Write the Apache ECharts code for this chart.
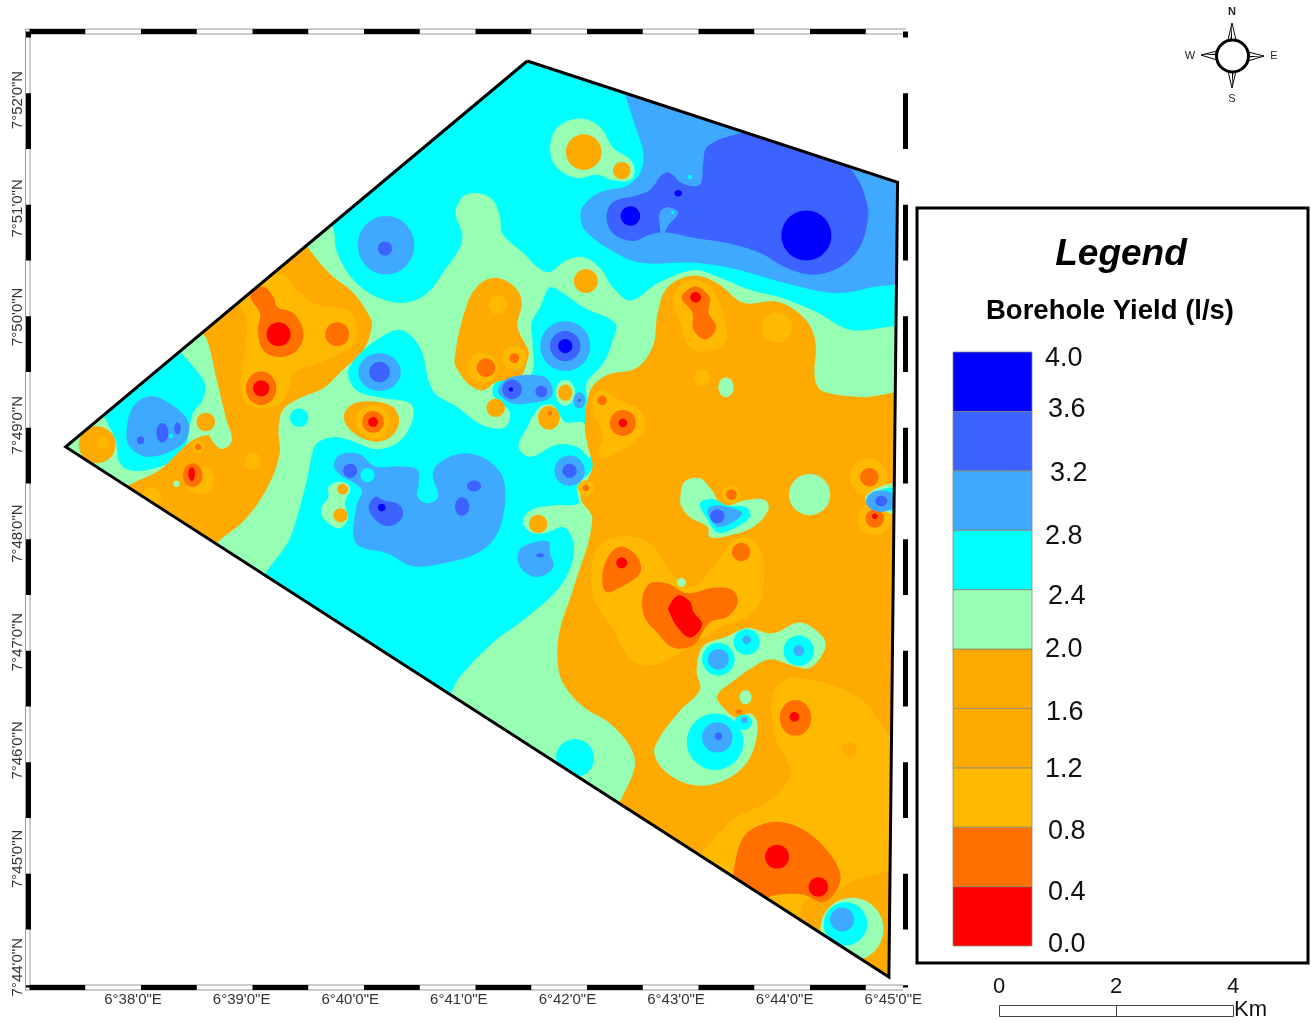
<!DOCTYPE html>
<html><head><meta charset="utf-8"><style>html,body{margin:0;padding:0;background:#fff}#c{width:1311px;height:1023px}</style>
<script src="https://cdn.jsdelivr.net/npm/echarts@6/dist/echarts.min.js"></script></head><body><div id="c"></div>
<script>
// Tick labels (arc minutes of 6°E and 7°N)
const lonTicks=[38,39,40,41,42,43,44,45];
const latTicks=[44,45,46,47,48,49,50,51,52];
// Yield classes (mid value of each legend band, l/s)
const R=0.2,D=0.6,Y=1.0,O=1.8,G=2.2,C=2.6,B=3.0,I=3.4,K=3.8;
const classLows=[0,0.4,0.8,1.2,1.6,2.0,2.4,2.8,3.2,3.6];
const classColors=['#ff0000','#ff7000','#ffb900','#ffaa00','#ffaa00','#96ffb4','#00ffff','#3ea9ff','#3c62ff','#0000ff'];
const legendLabels=['4.0','3.6','3.2','2.8','2.4','2.0','1.6','1.2','0.8','0.4','0.0'];
// Study area outline (lon, lat in arc minutes)
const boundary=[41.63,52.36, 45.04,51.24, 44.96,43.91, 37.38,48.80];
// Contour zones: [class,[lon,lat,...]] or [class,lon,lat,r] or [class,lon,lat,rx,ry]
const northZones=[
[C,boundary,0],
[B,[42.48,52.18,42.53,52.05,42.62,51.77,42.70,51.51,42.67,51.33,42.55,51.21,42.30,51.15,42.15,51.03,42.12,50.94,42.16,50.80,42.39,50.62,42.67,50.50,43.13,50.50,43.50,50.45,44.05,50.30,44.46,50.22,44.79,50.27,45.15,50.38,45.15,51.35]],
[I,[43.29,51.57,43.54,51.68,43.77,51.70,44.51,51.45,44.68,51.26,44.75,51.08,44.77,50.92,44.69,50.64,44.51,50.46,44.26,50.39,44.02,50.45,43.77,50.59,43.47,50.68,43.16,50.73,42.90,50.78,42.76,50.76,42.60,50.70,42.42,50.77,42.36,50.92,42.42,51.06,42.64,51.12,42.76,51.17,42.87,51.31,42.94,51.33,43.06,51.23,43.22,51.22,43.25,51.42]],
[B,[42.85,50.96,42.92,51.01,43.02,50.96,42.92,50.83,42.87,50.72,42.85,50.85]],
[C,43.13,51.29,0.02],[C,42.97,50.96,0.015],
[K,44.20,50.75,0.23],[K,42.58,50.93,0.09],[K,43.02,51.14,0.035,0.03],
[G,[41.84,51.54,41.91,51.75,42.12,51.83,42.30,51.75,42.42,51.56,42.58,51.45,42.62,51.35,42.58,51.26,42.42,51.26,42.27,51.31,42.09,51.28,41.91,51.37]],
[O,42.15,51.52,0.165],[O,42.50,51.35,0.08],
[B,40.33,50.66,0.26,0.27],[I,40.32,50.63,0.065]
];
const greenMain=[39.84,50.83,39.88,50.59,40.03,50.34,40.25,50.18,40.50,50.13,40.71,50.22,40.89,50.46,41.01,50.64,41.03,50.77,40.97,50.96,41.04,51.11,41.18,51.14,41.31,51.08,41.38,50.92,41.40,50.77,41.59,50.59,41.81,50.41,41.99,50.52,42.15,50.55,42.30,50.45,42.42,50.27,42.58,50.15,42.83,50.31,43.16,50.43,43.38,50.37,43.68,50.25,43.99,50.17,44.30,50.04,44.60,49.88,45.15,49.83,45.15,43.70,37.14,43.70,37.14,48.86,39.72,50.99];
const cyanCentre=[39.70,48.84,39.84,48.89,40.00,48.86,40.25,48.78,40.46,48.86,40.58,49.07,40.55,49.20,40.30,49.25,40.06,49.32,39.98,49.48,40.06,49.63,40.25,49.79,40.46,49.88,40.64,49.72,40.76,49.32,40.98,49.17,41.22,49.00,41.42,48.98,41.47,49.12,41.35,49.23,41.31,49.32,41.38,49.44,41.66,49.46,41.68,49.74,41.67,49.94,41.75,50.09,41.84,50.27,41.99,50.20,42.14,50.09,42.44,49.94,42.42,49.79,42.33,49.57,42.18,49.40,42.18,49.26,42.21,49.14,42.21,48.86,42.23,48.61,42.09,48.43,42.10,48.28,41.87,48.26,41.67,48.22,41.59,48.11,41.67,48.01,41.81,48.01,41.96,48.06,42.05,47.94,42.05,47.76,41.93,47.51,41.63,47.23,41.31,46.99,41.01,46.68,40.83,46.46,39.22,47.48,39.45,47.97,39.60,48.49,39.65,48.74];
const orangeMain=[42.83,50.03,42.92,50.27,43.16,50.38,43.38,50.31,43.62,50.13,43.93,50.14,44.17,50.00,44.28,49.79,44.28,49.42,44.36,49.31,44.69,49.26,45.15,49.23,45.15,43.70,42.44,45.45,42.48,45.52,42.62,45.85,42.58,46.03,42.39,46.25,42.15,46.40,41.96,46.62,41.91,46.83,41.93,47.11,42.05,47.48,42.23,48.13,42.12,48.34,42.23,48.61,42.19,48.80,42.16,48.98,42.21,49.32,42.36,49.46,42.64,49.53,42.79,49.74];
const westZones=[
[G,greenMain],
[C,[38.45,49.66,38.66,49.39,38.64,49.23,38.55,49.11,38.50,48.86,38.43,48.71,38.22,48.61,38.00,48.58,37.88,48.65,37.84,48.86,37.74,49.07,37.65,49.23,38.34,49.79]],
[O,[38.57,49.97,39.54,50.75,39.61,50.64,39.81,50.40,40.03,50.22,40.18,50.00,40.20,49.91,40.12,49.69,39.93,49.51,39.75,49.34,39.54,49.25,39.38,49.14,39.34,48.96,39.35,48.74,39.26,48.47,39.05,48.15,38.78,47.92,38.62,47.76,37.79,48.31,37.97,48.45,38.25,48.59,38.52,48.84,38.69,48.91,38.74,48.84,38.82,48.78,38.91,48.86,38.86,49.05,38.77,49.42,38.68,49.79]],
[O,37.67,48.82,0.17],[Y,37.72,48.84,0.055],[O,38.67,49.03,0.085],
[B,[37.94,48.93,38.00,49.17,38.16,49.27,38.34,49.20,38.50,49.05,38.50,48.89,38.37,48.77,38.13,48.71,37.97,48.80]],
[I,38.07,48.86,0.035],[I,38.27,48.93,0.055,0.09],[I,38.41,48.97,0.03,0.055],[C,38.35,48.90,0.02],
[Y,[38.99,50.15,39.35,50.40,39.54,50.22,39.70,50.11,39.97,50.06,40.06,49.91,40.03,49.74,39.88,49.65,39.70,49.57,39.48,49.48,39.43,49.32,39.35,49.20,39.20,49.16,39.05,49.20,38.99,49.39,39.03,49.69,39.05,49.97]],
[D,[39.08,50.19,39.19,50.28,39.29,50.19,39.33,50.09,39.48,50.03,39.57,49.85,39.51,49.69,39.35,49.63,39.20,49.69,39.15,49.88,39.17,50.03]],
[R,39.34,49.84,0.11],[D,39.88,49.84,0.11],[D,39.18,49.34,0.14,0.155],[R,39.18,49.34,0.075],
[Y,38.62,48.49,0.13],[D,38.55,48.54,0.09,0.11],[R,38.54,48.55,0.03,0.065],
[Y,38.60,48.80,0.055],[D,38.60,48.80,0.03],[G,38.40,48.46,0.03],[Y,39.10,48.67,0.075],[Y,38.17,48.34,0.09],
[C,39.53,49.07,0.085]
];
const centreZones=[
[C,cyanCentre],
[O,[40.96,49.60,41.08,50.13,41.20,50.31,41.35,50.36,41.52,50.27,41.58,50.13,41.54,49.91,41.64,49.69,41.64,49.63,41.56,49.44,41.35,49.40,41.22,49.32,41.10,49.37,41.01,49.48]],
[Y,41.36,50.11,0.085],[Y,41.22,49.53,0.14],[Y,41.51,49.62,0.11],[D,41.25,49.53,0.085],[D,41.51,49.62,0.045],[O,41.34,49.16,0.085],
[B,[41.36,49.32,41.47,49.44,41.78,49.45,41.86,49.35,41.84,49.25,41.63,49.20,41.47,49.21]],
[I,41.49,49.33,0.09],[I,41.76,49.31,0.055],[K,41.48,49.33,0.02],
[B,41.98,49.73,0.23],[I,41.98,49.73,0.14],[K,41.98,49.73,0.065],
[G,41.98,49.30,0.09,0.12],[O,41.98,49.30,0.065,0.075],[B,42.11,49.23,0.055,0.075],[I,42.11,49.23,0.015],
[G,[41.55,48.80,41.63,48.98,41.75,49.17,41.87,49.18,41.98,49.03,42.15,49.02,42.19,48.86,42.21,48.70,42.09,48.80,41.90,48.82,41.66,48.71]],
[O,41.83,49.07,0.10,0.11],[D,41.84,49.11,0.02],
[B,42.02,48.58,0.14],[I,42.02,48.58,0.065],
[O,41.73,48.09,0.085],
[B,[41.54,47.78,41.59,47.88,41.82,47.93,41.84,47.82,41.87,47.69,41.73,47.60,41.59,47.66]],
[I,41.75,47.80,0.04,0.02],
[B,[39.85,48.63,39.91,48.73,40.09,48.73,40.23,48.62,40.46,48.62,40.62,48.59,40.63,48.47,40.62,48.34,40.71,48.28,40.81,48.34,40.76,48.56,40.86,48.68,41.08,48.74,41.29,48.66,41.42,48.47,41.38,48.06,41.22,47.85,40.92,47.74,40.58,47.70,40.34,47.82,40.09,47.88,40.03,47.97,40.06,48.26,40.11,48.40,40.03,48.47,39.91,48.54]],
[C,40.16,48.54,0.065],[I,40.00,48.58,0.065],
[I,[40.17,48.24,40.23,48.34,40.30,48.31,40.46,48.26,40.48,48.15,40.37,48.07,40.25,48.11]],
[K,40.29,48.24,0.035],[I,41.03,48.25,0.065,0.085],[I,41.14,48.44,0.065,0.05],
[G,[39.73,48.22,39.80,48.34,39.80,48.43,39.91,48.48,40.00,48.42,39.95,48.28,39.98,48.15,39.91,48.05,39.79,48.10]],
[O,39.93,48.41,0.05],[O,39.91,48.17,0.065],
[O,[39.94,49.07,40.00,49.18,40.15,49.22,40.39,49.17,40.45,49.03,40.37,48.89,40.21,48.85,40.03,48.93]],
[Y,40.21,49.03,0.155],[D,40.21,49.03,0.10],[R,40.21,49.03,0.045],
[B,40.27,49.49,0.195,0.175],[I,40.27,49.49,0.095],
[O,42.17,50.33,0.11]
];
const eastZones=[
[O,orangeMain],
[Y,42.17,48.42,0.075],[D,42.17,48.42,0.03],
[Y,[42.97,50.15,43.04,50.29,43.18,50.34,43.34,50.25,43.47,49.81,43.34,49.69,43.13,49.71,43.04,49.94]],
[D,[43.05,50.18,43.18,50.28,43.31,50.18,43.30,50.04,43.37,49.90,43.27,49.79,43.16,49.88,43.15,50.04]],
[R,43.18,50.18,0.05],[Y,43.93,49.90,0.14],[Y,43.24,49.44,0.075],[G,43.46,49.35,0.07,0.09],
[Y,[42.24,49.26,42.33,49.32,42.48,49.23,42.67,49.14,42.72,48.98,42.60,48.84,42.46,48.75,42.36,48.70,42.28,48.75,42.33,48.89,42.24,49.11]],
[D,42.32,49.23,0.045],[D,42.51,49.02,0.12],[R,42.51,49.02,0.04],
[G,44.23,48.36,0.19],
[G,[43.04,48.34,43.08,48.48,43.22,48.51,43.33,48.40,43.43,48.26,43.65,48.31,43.82,48.31,43.85,48.22,43.71,48.06,43.44,47.97,43.31,47.97,43.29,48.06,43.13,48.15,43.05,48.25]],
[C,[43.22,48.28,43.34,48.32,43.47,48.26,43.65,48.24,43.68,48.15,43.50,48.03,43.38,48.01,43.29,48.13]],
[B,[43.29,48.22,43.36,48.26,43.50,48.24,43.61,48.19,43.53,48.11,43.40,48.06,43.33,48.11]],
[I,43.38,48.16,0.065],[Y,43.51,48.36,0.085],[D,43.51,48.36,0.05],
[Y,44.77,48.52,0.17],[D,44.78,48.52,0.085],[Y,44.83,48.14,0.155],[D,44.83,48.14,0.085],[R,44.83,48.16,0.025],
[G,[44.74,48.32,44.85,48.42,45.02,48.47,45.15,48.47,45.15,48.17,45.02,48.17,44.85,48.25]],
[C,[44.77,48.32,44.88,48.40,45.02,48.43,45.15,48.43,45.15,48.20,45.02,48.20,44.88,48.25]],
[B,44.89,48.30,0.14,0.10],[I,44.89,48.30,0.055,0.05]
];
const southZones=[
[Y,[42.24,47.79,42.36,47.94,42.60,47.97,42.79,47.88,42.94,47.66,43.13,47.51,43.34,47.69,43.50,47.91,43.65,47.96,43.79,47.82,43.79,47.41,43.65,47.23,43.40,47.13,43.22,47.02,42.85,46.80,42.60,46.83,42.42,47.11,42.24,47.41]],
[D,[42.32,47.57,42.36,47.76,42.48,47.88,42.64,47.79,42.67,47.64,42.48,47.50,42.36,47.46]],
[R,42.50,47.73,0.05],
[D,[42.69,47.41,42.76,47.54,42.92,47.54,43.10,47.45,43.34,47.50,43.52,47.48,43.57,47.37,43.47,47.23,43.31,47.18,43.16,46.97,42.97,46.95,42.83,47.08,42.71,47.23]],
[R,[42.93,47.32,43.02,47.43,43.13,47.37,43.16,47.28,43.24,47.16,43.13,47.04,43.01,47.14,42.94,47.27]],
[G,43.05,47.55,0.04],[D,43.60,47.83,0.085],
[Y,[43.88,46.35,43.89,46.53,43.96,46.62,44.08,46.67,44.45,46.60,44.72,46.46,44.91,46.21,45.02,46.03,45.06,44.99,44.60,44.78,44.39,44.62,44.19,44.62,44.10,44.44,43.13,44.99,43.25,45.08,43.52,45.36,43.87,45.54,44.05,45.76,44.02,45.91,43.91,46.12]],
[G,[43.25,46.96,43.47,47.05,43.65,47.13,43.89,47.08,44.14,47.18,44.35,47.05,44.37,46.93,44.23,46.76,44.05,46.79,43.87,46.84,43.71,46.77,43.54,46.65,43.38,46.51,43.43,46.40,43.56,46.30,43.68,46.34,43.75,46.25,43.71,46.00,43.59,45.82,43.38,45.70,43.16,45.68,42.92,45.79,42.80,45.97,42.85,46.12,43.04,46.37,43.22,46.56,43.19,46.74]],
[G,43.64,46.49,0.055,0.065],[D,43.58,46.36,0.03,0.02],
[C,43.36,46.08,0.26],[B,43.38,46.12,0.14],[I,43.39,46.13,0.035],
[C,43.62,46.26,0.08,0.07],[B,43.63,46.28,0.03],
[C,43.39,46.84,0.15],[B,43.39,46.84,0.095],
[C,43.65,47.00,0.12],[B,43.65,47.02,0.04],
[C,44.13,46.92,0.14],[B,44.13,46.92,0.05],
[C,42.07,45.93,0.175],
[O,44.60,46.01,0.065],[D,44.10,46.30,0.145,0.165],[R,44.09,46.31,0.045],
[D,[43.55,44.99,43.62,45.20,43.77,45.31,43.96,45.34,44.17,45.27,44.39,45.08,44.51,44.87,44.48,44.71,44.35,44.60,44.17,44.67,43.96,44.67,43.84,44.64,43.73,44.57,43.54,44.80]],
[R,43.93,45.02,0.11],[R,44.31,44.74,0.09],
[G,44.62,44.35,0.29],[C,44.56,44.40,0.20],[B,44.53,44.44,0.11]
];
const zones=[...northZones,...westZones,...centreZones,...eastZones,...southZones];

function classColor(v){let i=classLows.length-1;while(i>0&&v<classLows[i])i--;return classColors[i];}
function pairs(a){const o=[];for(let i=0;i<a.length;i+=2)o.push([a[i],a[i+1]]);return o;}
const outline=pairs(boundary);outline.push(outline[0]);

function renderZone(p,api){
  const z=zones[p.dataIndex];
  const clip={type:'polygon',shape:{points:pairs(boundary).map(q=>api.coord(q))}};
  const style={fill:classColor(z[0])};
  if(Array.isArray(z[1])){
    return {type:'polygon',clipPath:clip,shape:{points:pairs(z[1]).map(q=>api.coord(q)),smooth:z[2]===0?0:0.36},style};
  }
  const c=api.coord([z[1],z[2]]);
  const s=api.size([z[3],z.length>4?z[4]:z[3]]);
  return {type:'ellipse',clipPath:clip,shape:{cx:c[0],cy:c[1],rx:s[0],ry:s[1]},style};
}
function renderBand(p,api){
  const lo=classLows[p.dataIndex];
  const a=api.coord([0,lo+0.4]),b=api.coord([1,lo]);
  return {type:'rect',shape:{x:a[0],y:a[1],width:b[0]-a[0],height:b[1]-a[1]},style:{fill:classColors[p.dataIndex],stroke:'#8a8a70',lineWidth:0.8}};
}

const FONT='"Liberation Sans",Arial,sans-serif';
const ink='#111';
function label(text,x,y,size,extra){return {type:'text',silent:true,style:Object.assign({text,x,y,font:size+'px '+FONT,fill:ink,textAlign:'left',textVerticalAlign:'middle'},extra||{})};}
const legendX=[1045,1048,1050,1045,1048,1045,1046,1045,1048,1048,1048];
const legendY=[359,410,474,537,597,650,713,770,832,893,945];
const band=(pts)=>({type:'polyline',z:-1,silent:true,shape:{points:pts},style:{stroke:'#999',lineWidth:1,fill:null}});
const spike=(pts,half)=>[{type:'polygon',silent:true,shape:{points:pts},style:{fill:'#fff',stroke:'#000',lineWidth:1}},{type:'polygon',silent:true,shape:{points:half},style:{fill:'#000'}}];
const graphics=[
  band([[25.5,990],[25.5,29],[906,29]]),band([[30,985],[30,34],[906,34]]),band([[30,985],[903,985]]),band([[25.5,990],[903,990]]),
  {type:'rect',silent:true,shape:{x:917,y:208,width:391,height:755},style:{fill:'#fff',stroke:'#000',lineWidth:3},z:-1},
  {type:'text',silent:true,style:{text:'Legend',x:1121,y:255,font:'italic bold 37px '+FONT,fill:'#000',textAlign:'center',textVerticalAlign:'middle'}},
  {type:'text',silent:true,style:{text:'Borehole Yield (l/s)',x:1110,y:311,font:'bold 27.5px '+FONT,fill:'#000',textAlign:'center',textVerticalAlign:'middle'}},
  ...legendLabels.map((t,i)=>label(t,legendX[i],legendY[i],27)),
  ...spike([[1232,23],[1228,40],[1236,40]],[[1232,23],[1230.5,40],[1232,40]]),
  ...spike([[1232,88],[1228,71],[1236,71]],[[1232,88],[1232,71],[1233.5,71]]),
  ...spike([[1201,55],[1217,51],[1217,60]],[[1201,55],[1217,53.5],[1217,55]]),
  ...spike([[1264,56],[1248,52],[1248,61]],[[1264,56],[1248,56],[1248,57.5]]),
  {type:'circle',silent:true,shape:{cx:1232.5,cy:56,r:16},style:{fill:'#fff',stroke:'#000',lineWidth:3}},
  {type:'text',silent:true,style:{text:'N',x:1232,y:12,font:'bold 11px '+FONT,fill:'#222',textAlign:'center',textVerticalAlign:'middle'}},
  {type:'text',silent:true,style:{text:'S',x:1232,y:99,font:'11px '+FONT,fill:'#222',textAlign:'center',textVerticalAlign:'middle'}},
  {type:'text',silent:true,style:{text:'W',x:1190,y:56,font:'11px '+FONT,fill:'#222',textAlign:'center',textVerticalAlign:'middle'}},
  {type:'text',silent:true,style:{text:'E',x:1274,y:56,font:'11px '+FONT,fill:'#222',textAlign:'center',textVerticalAlign:'middle'}},
  {type:'rect',silent:true,shape:{x:999.5,y:1005.5,width:234,height:11},style:{fill:'#fff',stroke:'#444',lineWidth:1}},
  {type:'line',silent:true,shape:{x1:1116.5,y1:1005.5,x2:1116.5,y2:1016.5},style:{stroke:'#444',lineWidth:1}},
  {type:'text',silent:true,style:{text:'0',x:999,y:987,font:'22px '+FONT,fill:ink,textAlign:'center',textVerticalAlign:'middle'}},
  {type:'text',silent:true,style:{text:'2',x:1116,y:987,font:'22px '+FONT,fill:ink,textAlign:'center',textVerticalAlign:'middle'}},
  {type:'text',silent:true,style:{text:'4',x:1233,y:987,font:'22px '+FONT,fill:ink,textAlign:'center',textVerticalAlign:'middle'}},
  {type:'text',silent:true,style:{text:'Km',x:1234,y:1010,font:'22px '+FONT,fill:ink,textAlign:'left',textVerticalAlign:'middle'}}
];
const frame=(off)=>({show:true,onZero:false,lineStyle:{color:'#000',width:5,type:[55.75,55.75],dashOffset:off,cap:'butt'}});
const lonAxis={type:'value',min:37.033,max:45.113,gridIndex:0,splitLine:{show:false},axisTick:{show:false}};
const latAxis={type:'value',min:43.813,max:52.632,gridIndex:0,splitLine:{show:false},axisTick:{show:false}};
const chart=echarts.init(document.getElementById('c'));
chart.setOption({
  animation:false,backgroundColor:'#fff',
  grid:[{left:28,top:31.5,width:877.5,height:956,containLabel:false},{left:953,top:352,width:79,height:594}],
  xAxis:[
    Object.assign({},lonAxis,{position:'bottom',axisLine:frame(110),axisLabel:{customValues:lonTicks,margin:5,fontSize:15,fontFamily:FONT,color:'#333',hideOverlap:false,formatter:v=>`6°${v}'0"E`}}),
    Object.assign({},lonAxis,{position:'top',axisLine:frame(110),axisLabel:{show:false}}),
    {type:'value',min:0,max:1,gridIndex:1,show:false}
  ],
  yAxis:[
    Object.assign({},latAxis,{position:'left',axisLine:frame(53.4),axisLabel:{customValues:latTicks,rotate:90,margin:3,fontSize:15,fontFamily:FONT,color:'#333',hideOverlap:false,formatter:v=>`7°${v}'0"N`}}),
    Object.assign({},latAxis,{position:'right',axisLine:frame(53.4),axisLabel:{show:false}}),
    {type:'value',min:0,max:4,gridIndex:1,show:false}
  ],
  graphic:{elements:graphics},
  series:[
    {type:'custom',name:'Borehole yield zones',coordinateSystem:'cartesian2d',xAxisIndex:0,yAxisIndex:0,silent:true,clip:false,data:zones.map((z,i)=>i),renderItem:renderZone,z:2},
    {type:'line',name:'Study area',xAxisIndex:0,yAxisIndex:0,data:outline,symbol:'none',silent:true,clip:false,lineStyle:{color:'#000',width:3,join:'miter'},z:5},
    {type:'custom',name:'Legend bands',coordinateSystem:'cartesian2d',xAxisIndex:2,yAxisIndex:2,silent:true,data:classLows.map((v,i)=>i),renderItem:renderBand,z:3}
  ]
});
</script></body></html>
